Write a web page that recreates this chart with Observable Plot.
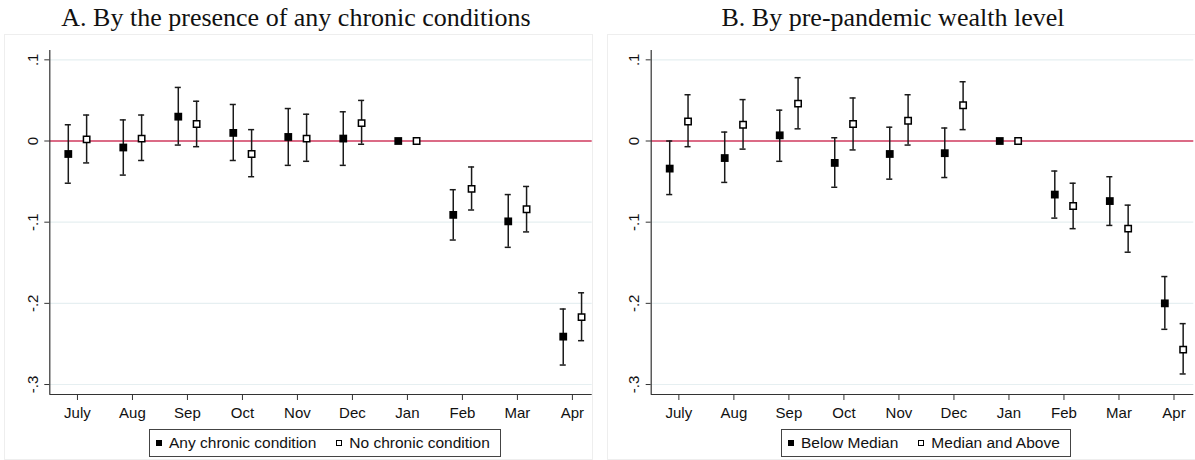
<!DOCTYPE html>
<html>
<head>
<meta charset="utf-8">
<script src="https://cdn.jsdelivr.net/npm/d3@7"></script>
<script src="https://cdn.jsdelivr.net/npm/@observablehq/plot@0.6"></script>
<style>
  html, body { margin: 0; padding: 0; background: #fff; }
  #wrap { position: relative; width: 1195px; height: 460px; overflow: hidden; background: #fff; }
  .box { position: absolute; border: 1px solid #eeeeee; box-sizing: border-box; }
  .title { position: absolute; top: 0; font-family: "Liberation Serif", "Times New Roman", serif; font-size: 26px; color: #111; text-align: center; white-space: nowrap; line-height: 36px; }
  .plot { position: absolute; top: 0; }
  .legend { position: absolute; top: 429px; height: 28px; border: 1px solid #444; box-sizing: border-box; display: flex; align-items: center; font-family: "Liberation Sans", Arial, sans-serif; font-size: 15.5px; color: #111; padding: 0 10px 0 6px; white-space: nowrap; }
  .sw { display: inline-block; width: 6px; height: 6px; box-sizing: border-box; margin-right: 7px; }
  .sw.fill { background: #000; }
  .sw.open { background: #fff; border: 1.2px solid #000; }
  .item { display: flex; align-items: center; }
  .gap { width: 20px; }
</style>
</head>
<body>
<div id="wrap"></div>
<script>
// ---- data ----
const months = ["July", "Aug", "Sep", "Oct", "Nov", "Dec", "Jan", "Feb", "Mar", "Apr"];
const yTicks = [0.1, 0, -0.1, -0.2, -0.3];
const yTickLabels = [".1", "0", "-.1", "-.2", "-.3"];

// Panel A
const titleA = "A. By the presence of any chronic conditions";
const seriesA1 = "Any chronic condition";
const seriesA2 = "No chronic condition";
const chronicEst = [-0.016, -0.008, 0.030, 0.010, 0.005, 0.003, 0, -0.091, -0.099, -0.241];
const chronicLo  = [-0.052, -0.042, -0.005, -0.024, -0.030, -0.030, null, -0.122, -0.131, -0.276];
const chronicHi  = [0.020, 0.026, 0.066, 0.045, 0.040, 0.036, null, -0.060, -0.066, -0.207];
const noChronicEst = [0.002, 0.003, 0.021, -0.016, 0.003, 0.022, 0, -0.059, -0.084, -0.217];
const noChronicLo  = [-0.027, -0.024, -0.007, -0.044, -0.025, -0.004, null, -0.085, -0.112, -0.246];
const noChronicHi  = [0.032, 0.032, 0.049, 0.014, 0.033, 0.050, null, -0.032, -0.056, -0.187];

// Panel B
const titleB = "B. By pre-pandemic wealth level";
const seriesB1 = "Below Median";
const seriesB2 = "Median and Above";
const belowEst = [-0.034, -0.021, 0.007, -0.027, -0.016, -0.015, 0, -0.066, -0.074, -0.200];
const belowLo  = [-0.066, -0.051, -0.025, -0.057, -0.047, -0.045, null, -0.095, -0.104, -0.232];
const belowHi  = [0.000, 0.011, 0.038, 0.004, 0.017, 0.016, null, -0.037, -0.044, -0.167];
const aboveEst = [0.024, 0.020, 0.046, 0.021, 0.025, 0.044, 0, -0.080, -0.108, -0.257];
const aboveLo  = [-0.007, -0.010, 0.015, -0.011, -0.005, 0.014, null, -0.108, -0.137, -0.287];
const aboveHi  = [0.057, 0.051, 0.078, 0.053, 0.057, 0.073, null, -0.052, -0.079, -0.225];

// ---- drawing ----
const xDomain = [-0.503, 9.36];
const yDomain = [-0.3123, 0.1115];
const offset = 1 / 6;
const capHalf = 0.055;
const ink = "#1a1a1a";
const axisInk = "#333";

function rows(est, lo, hi, group, off) {
  return months.map((m, i) => ({ x: i + off, est: est[i], lo: lo[i], hi: hi[i], group }));
}

function makePanel({left, width, marginLeft, marginRight, s1, s2}) {
  const r1 = rows(s1.est, s1.lo, s1.hi, 1, -offset);
  const r2 = rows(s2.est, s2.lo, s2.hi, 2, offset);
  const all = r1.concat(r2);
  const ci = all.filter(d => d.lo != null);
  const svg = Plot.plot({
    width, height: 430,
    marginLeft, marginRight, marginTop: 50, marginBottom: 36,
    style: { fontFamily: "'Liberation Sans', Arial, sans-serif", fontSize: "15px", background: "transparent", color: "#111" },
    x: { type: "linear", domain: xDomain, axis: null },
    y: { type: "linear", domain: yDomain, axis: null },
    marks: [
      Plot.ruleY(yTicks.filter(v => v !== 0), { stroke: "#e6eff1", strokeWidth: 1.2 }),
      Plot.ruleY([0], { stroke: "#cf3a5e", strokeWidth: 1.6 }),
      Plot.ruleX([xDomain[0]], { stroke: axisInk, strokeWidth: 1.2 }),
      Plot.ruleY([yDomain[0]], { stroke: axisInk, strokeWidth: 1.2 }),
      Plot.axisX({ ticks: d3.range(months.length), tickFormat: i => months[i], tickSize: 6, tickPadding: 7, fontSize: 15, stroke: axisInk, label: null }),
      Plot.axisY({ ticks: yTicks, tickFormat: () => "", tickSize: 5, stroke: axisInk, label: null }),
      Plot.text(yTicks, { x: xDomain[0], y: d => d, text: (d, i) => yTickLabels[i], rotate: -90, dx: -17, fontSize: 15, textAnchor: "middle", lineAnchor: "middle", fill: "#111" }),
      Plot.ruleX(ci, { x: "x", y1: "lo", y2: "hi", stroke: ink, strokeWidth: 1.5 }),
      Plot.ruleY(ci, { y: "lo", x1: d => d.x - capHalf, x2: d => d.x + capHalf, stroke: ink, strokeWidth: 1.5 }),
      Plot.ruleY(ci, { y: "hi", x1: d => d.x - capHalf, x2: d => d.x + capHalf, stroke: ink, strokeWidth: 1.5 }),
      Plot.dot(r1, { x: "x", y: "est", symbol: "square", r: 4.4, fill: "#000", stroke: "none" }),
      Plot.dot(r2, { x: "x", y: "est", symbol: "square", r: 3.6, fill: "#fff", stroke: "#000", strokeWidth: 1.5 })
    ]
  });
  svg.classList.add("plot");
  svg.style.left = left + "px";
  return svg;
}

const wrap = document.getElementById("wrap");

function addBox(left, width) {
  const b = document.createElement("div");
  b.className = "box";
  b.style.left = left + "px"; b.style.top = "34px";
  b.style.width = width + "px"; b.style.height = "426px";
  wrap.appendChild(b);
}
function addTitle(text, center) {
  const t = document.createElement("div");
  t.className = "title";
  t.textContent = text;
  t.style.left = (center - 300) + "px";
  t.style.width = "600px";
  wrap.appendChild(t);
}
function addLegend(l1, l2, center) {
  const lg = document.createElement("div");
  lg.className = "legend";
  lg.innerHTML = `<div class="item"><span class="sw fill"></span><span></span></div><div class="gap"></div><div class="item"><span class="sw open"></span><span></span></div>`;
  const spans = lg.querySelectorAll(".item span:last-child");
  spans[0].textContent = l1; spans[1].textContent = l2;
  wrap.appendChild(lg);
  const w = lg.offsetWidth;
  lg.style.left = (center - w / 2) + "px";
}

addBox(4, 589);
addBox(607, 589);
addTitle(titleA, 296);
addTitle(titleB, 893);

wrap.appendChild(makePanel({
  left: 0, width: 600, marginLeft: 49.3, marginRight: 8.3,
  s1: { est: chronicEst, lo: chronicLo, hi: chronicHi },
  s2: { est: noChronicEst, lo: noChronicLo, hi: noChronicHi }
}));
wrap.appendChild(makePanel({
  left: 600, width: 595, marginLeft: 50.7, marginRight: 1.7,
  s1: { est: belowEst, lo: belowLo, hi: belowHi },
  s2: { est: aboveEst, lo: aboveLo, hi: aboveHi }
}));

addLegend(seriesA1, seriesA2, 325);
addLegend(seriesB1, seriesB2, 926);
</script>
</body>
</html>
